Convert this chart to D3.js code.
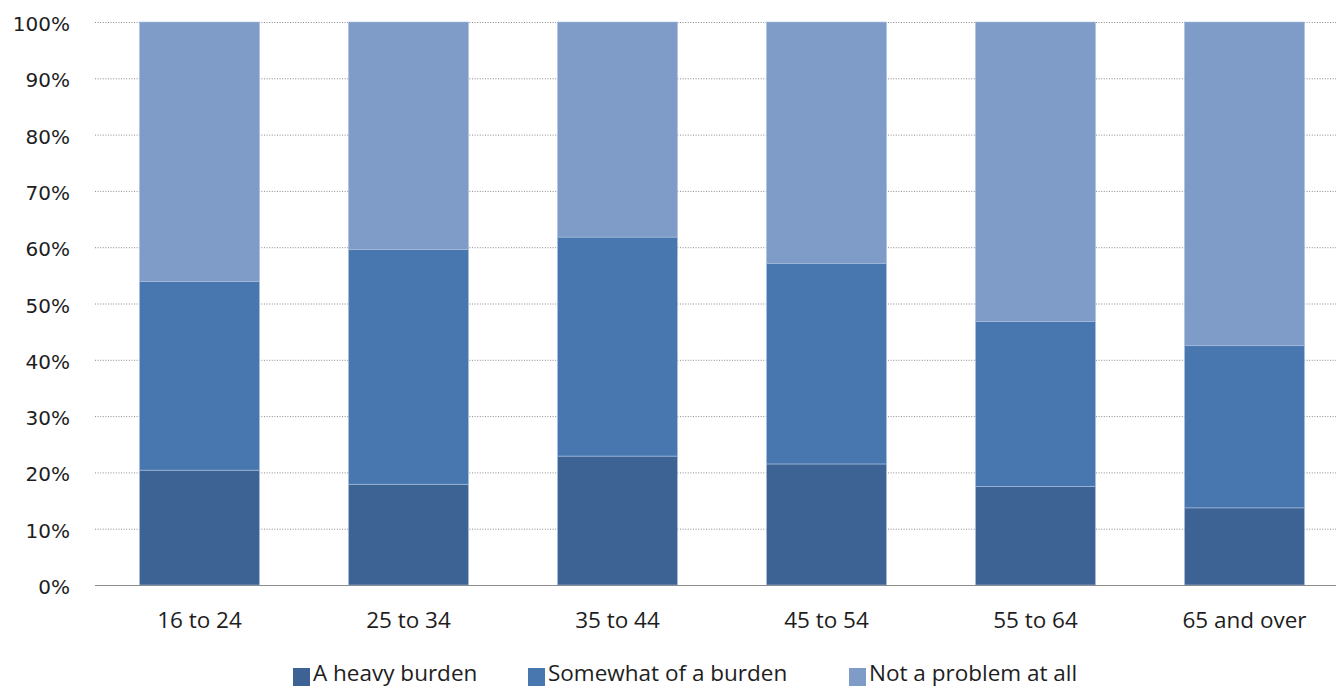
<!DOCTYPE html>
<html><head><meta charset="utf-8">
<script src="https://cdn.jsdelivr.net/npm/d3@7"></script>
<style>body{margin:0;background:#fff}</style>
</head><body>
<svg id="c" width="1336" height="687"></svg>
<script>
const categories = ["16 to 24","25 to 34","35 to 44","45 to 54","55 to 64","65 and over"];
const seriesNames = ["A heavy burden","Somewhat of a burden","Not a problem at all"];
const heavy = [20.4, 17.9, 22.9, 21.5, 17.5, 13.7];
const somewhat = [33.5, 41.7, 38.9, 35.6, 29.3, 28.8];
const notProblem = [46.1, 40.4, 38.2, 42.9, 53.2, 57.5];
const yTicks = [0,10,20,30,40,50,60,70,80,90,100];
const colors = ["#3C6394","#4877AF","#7F9CC8"];

(function(){
const svg = d3.select("#c");
const mLeft = 95, mRight = 1336, mTop = 22, mBottom = 585;
const x = d3.scaleBand().domain(categories).range([mLeft, mLeft + 209*6]).paddingInner(0.426).paddingOuter(0.213);
const y = d3.scaleLinear().domain([0,100]).range([mBottom, mTop]);

svg.append("g").selectAll("line").data(yTicks.filter(d=>d>0)).join("line")
  .attr("x1", mLeft).attr("x2", mRight)
  .attr("y1", d=>y(d)+0.5).attr("y2", d=>y(d)+0.5)
  .attr("stroke","#8a8a8a").attr("stroke-width",1).attr("stroke-dasharray","1,1.6");

const data = categories.map((c,i)=>({cat:c, heavy:heavy[i], somewhat:somewhat[i], notProblem:notProblem[i]}));
const stack = d3.stack().keys(["heavy","somewhat","notProblem"])(data);
svg.append("g").selectAll("g").data(stack).join("g").attr("fill",(d,i)=>colors[i])
  .selectAll("rect").data(d=>d).join("rect")
  .attr("x", d=>x(d.data.cat)).attr("width", x.bandwidth())
  .attr("y", d=>y(d[1])).attr("height", d=>y(d[0])-y(d[1]))
  .attr("stroke","#a9bfdf").attr("stroke-width",0.6);

svg.append("line").attr("x1",mLeft).attr("x2",mRight).attr("y1",mBottom+0.5).attr("y2",mBottom+0.5)
  .attr("stroke","#8c8c8c").attr("stroke-width",1.2);

svg.append("g").selectAll("text").data(yTicks).join("text")
  .attr("x",70).attr("y",d=>y(d)+9).attr("text-anchor","end")
  .style("font-family","DejaVu Sans, sans-serif").style("font-size","20px").attr("fill","#1e1e1e")
  .text(d=>d+"%");

svg.append("g").selectAll("text").data(categories).join("text")
  .attr("x",d=>x(d)+x.bandwidth()/2).attr("y",628).attr("text-anchor","middle")
  .style("font-family","Open Sans, sans-serif").style("font-size","22.5px").attr("fill","#1e1e1e")
  .text(d=>d);

const legX = [293, 528, 849];
const lg = svg.append("g").selectAll("g").data(seriesNames).join("g")
  .attr("transform",(d,i)=>`translate(${legX[i]},0)`);
lg.append("rect").attr("x",0).attr("y",668).attr("width",17).attr("height",18).attr("fill",(d,i)=>colors[i]);
lg.append("text").attr("x",20).attr("y",681)
  .style("font-family","Open Sans, sans-serif").style("font-size","22.5px").attr("fill","#1e1e1e")
  .text(d=>d);
})();
</script>
</body></html>
